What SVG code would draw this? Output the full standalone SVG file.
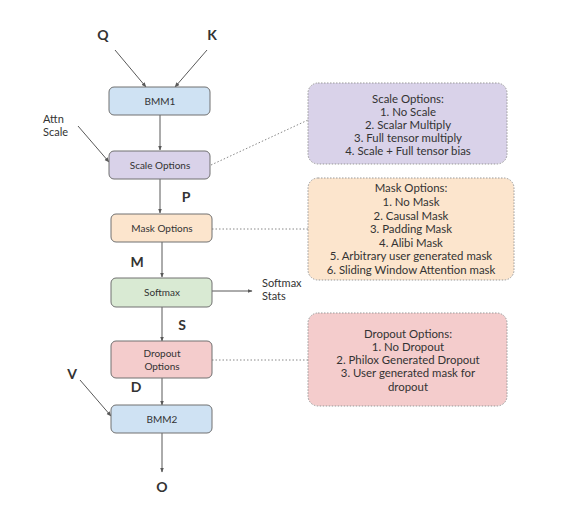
<svg xmlns="http://www.w3.org/2000/svg" width="569" height="507" viewBox="0 0 569 507">
<defs>
<marker id="ah" viewBox="0 0 10 10" refX="9" refY="5" markerWidth="5" markerHeight="5" orient="auto">
<path d="M0,1 L10,5 L0,9 z" fill="#595959"/>
</marker>
<style>
.node{stroke:#707070;stroke-width:1}
.opt{stroke:#999;stroke-width:1;stroke-dasharray:1.5 1.5}
.t{font-family:Lato,"Open Sans",sans-serif;font-size:10px;fill:#333;text-anchor:middle}
.o{font-family:Lato,"Open Sans",sans-serif;font-size:11.4px;fill:#333;text-anchor:middle}
.lbl{font-family:Lato,"Open Sans",sans-serif;font-size:14px;font-weight:bold;fill:#333;text-anchor:middle}
.sm{font-family:Lato,"Open Sans",sans-serif;font-size:11px;fill:#333}
.c{stroke:#595959;stroke-width:1;fill:none;marker-end:url(#ah)}
.d{stroke:#888;stroke-width:1;fill:none;stroke-dasharray:1.5 2}
</style>
</defs>
<rect width="569" height="507" fill="#fff"/>
<g id="connectors">
<line class="c" x1="115" y1="50" x2="146" y2="87"/>
<line class="c" x1="207" y1="50" x2="175" y2="87"/>
<line class="c" x1="160" y1="115" x2="160" y2="150"/>
<line class="c" x1="78" y1="126" x2="109" y2="162"/>
<line class="c" x1="160" y1="179" x2="160" y2="213"/>
<line class="c" x1="162" y1="242" x2="162" y2="277"/>
<line class="c" x1="212" y1="291" x2="252" y2="291"/>
<line class="c" x1="162" y1="307" x2="162" y2="341"/>
<line class="c" x1="162" y1="378" x2="162" y2="405"/>
<line class="c" x1="80" y1="380" x2="111" y2="416"/>
<line class="c" x1="162" y1="433" x2="162" y2="472"/>
<line class="d" x1="211" y1="165" x2="308" y2="120"/>
<line class="d" x1="212" y1="229" x2="308" y2="229"/>
<line class="d" x1="212" y1="360" x2="308" y2="360"/>
</g>
<g id="labels">
<text class="lbl" x="103" y="40">Q</text>
<text class="lbl" x="212" y="40">K</text>
<text class="sm" x="43" y="123">Attn</text>
<text class="sm" x="43" y="136">Scale</text>
<text class="lbl" x="186" y="202">P</text>
<text class="lbl" x="137" y="267">M</text>
<text class="sm" x="262" y="287">Softmax</text>
<text class="sm" x="262" y="300">Stats</text>
<text class="lbl" x="182" y="330">S</text>
<text class="lbl" x="72" y="379">V</text>
<text class="lbl" x="136" y="392">D</text>
<text class="lbl" x="162" y="492">O</text>
</g>
<g id="bmm1"><rect class="node" x="109" y="87" width="101" height="28" rx="5" fill="#cfe2f3"/><text class="t" x="160" y="104.5">BMM1</text></g>
<g id="scale"><rect class="node" x="109" y="151" width="101" height="28" rx="5" fill="#d9d2e9"/><text class="t" x="160" y="168.5">Scale Options</text></g>
<g id="mask"><rect class="node" x="111" y="214" width="101" height="28" rx="5" fill="#fce5cd"/><text class="t" x="162" y="231.5">Mask Options</text></g>
<g id="softmax"><rect class="node" x="111" y="278" width="101" height="29" rx="5" fill="#d9ead3"/><text class="t" x="162" y="295.5">Softmax</text></g>
<g id="dropout"><rect class="node" x="111" y="341" width="101" height="37" rx="5" fill="#f4cccc"/><text class="t" x="162" y="356.5">Dropout</text><text class="t" x="162" y="370">Options</text></g>
<g id="bmm2"><rect class="node" x="111" y="405" width="101" height="28" rx="5" fill="#cfe2f3"/><text class="t" x="162" y="422.5">BMM2</text></g>
<g id="scaleopts"><rect class="opt" x="308" y="83" width="199" height="81" rx="10" fill="#d9d2e9"/>
<text class="o" x="408" y="103">Scale Options:</text>
<text class="o" x="408" y="116">1. No Scale</text>
<text class="o" x="408" y="129">2. Scalar Multiply</text>
<text class="o" x="408" y="142">3. Full tensor multiply</text>
<text class="o" x="408" y="155">4. Scale + Full tensor bias</text></g>
<g id="maskopts"><rect class="opt" x="308" y="178" width="206" height="102" rx="10" fill="#fce5cd"/>
<text class="o" x="411" y="192">Mask Options:</text>
<text class="o" x="411" y="206">1. No Mask</text>
<text class="o" x="411" y="219.5">2. Causal Mask</text>
<text class="o" x="411" y="233">3. Padding Mask</text>
<text class="o" x="411" y="246.5">4. Alibi Mask</text>
<text class="o" x="411" y="260">5. Arbitrary user generated mask</text>
<text class="o" x="411" y="273.5">6. Sliding Window Attention mask</text></g>
<g id="dropopts"><rect class="opt" x="308" y="313" width="199" height="93" rx="10" fill="#f4cccc"/>
<text class="o" x="408" y="338">Dropout Options:</text>
<text class="o" x="408" y="351">1. No Dropout</text>
<text class="o" x="408" y="364">2. Philox Generated Dropout</text>
<text class="o" x="408" y="377">3. User generated mask for</text>
<text class="o" x="408" y="391">dropout</text></g>
</svg>
